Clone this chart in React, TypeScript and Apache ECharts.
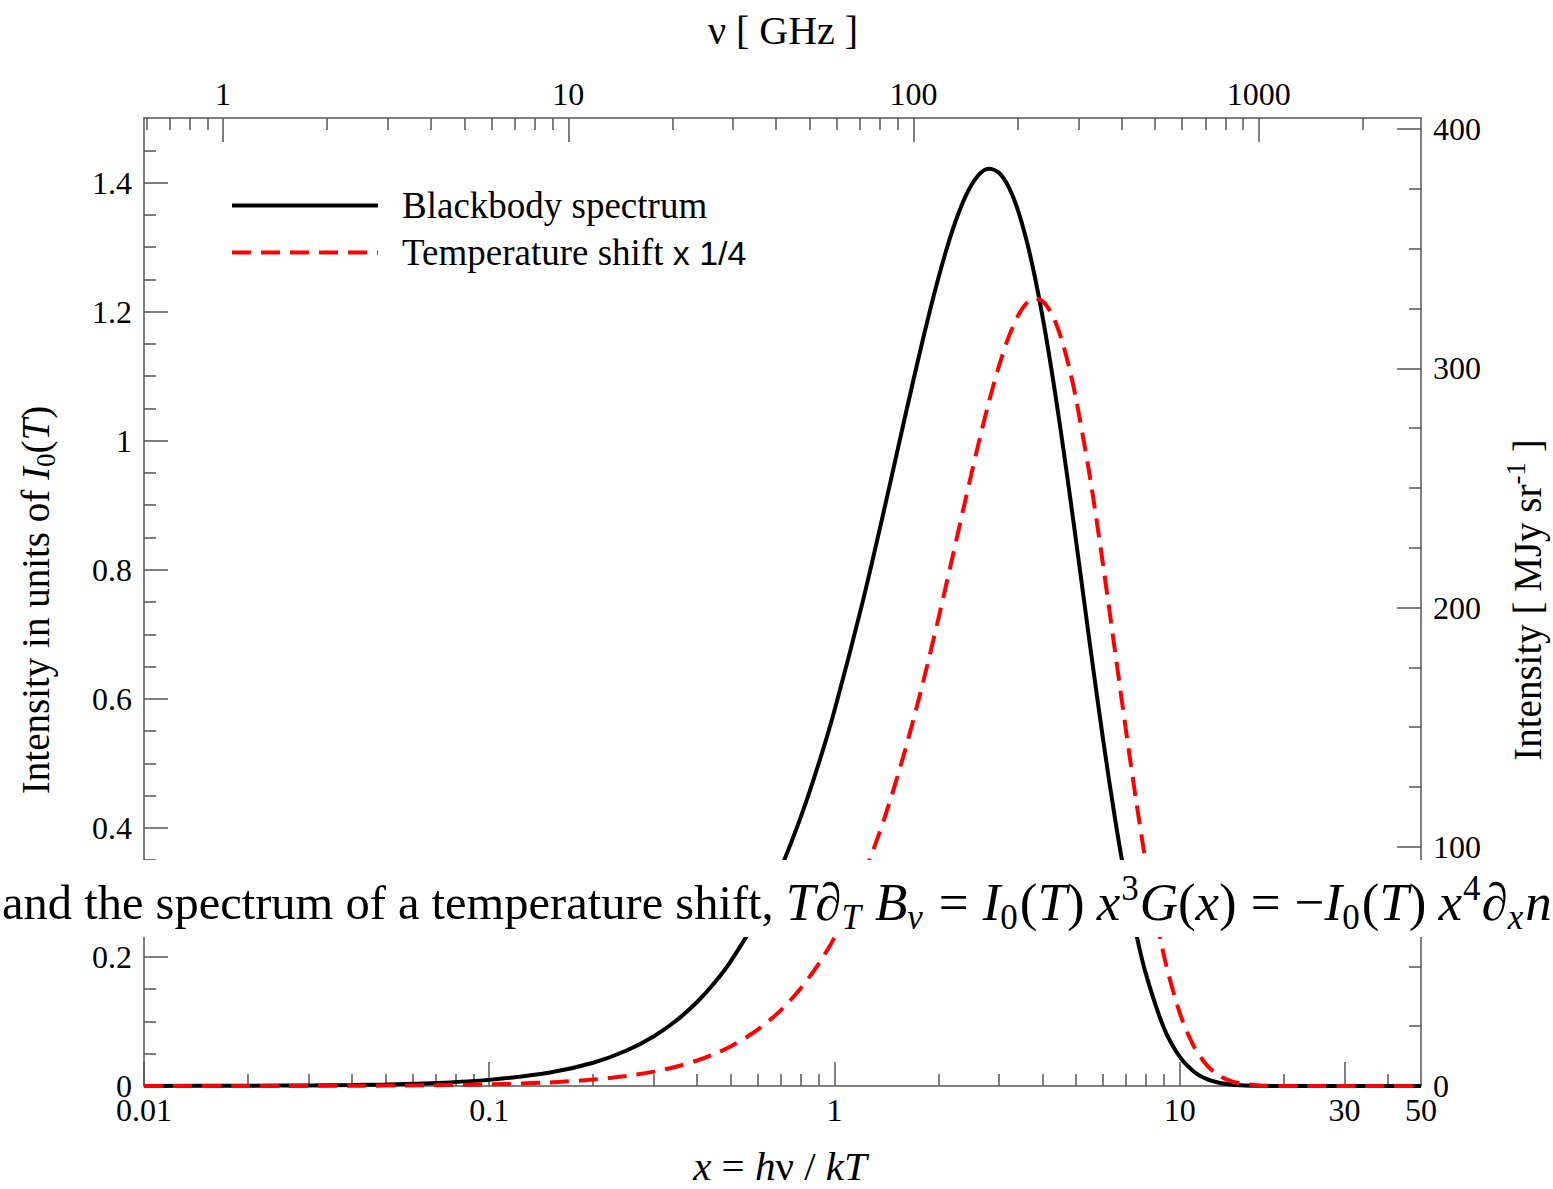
import React, { useEffect, useRef } from "react";
import * as echarts from "echarts";

// x = h nu / kT sample points
const xValues = [0.01, 0.02, 0.03, 0.04, 0.05, 0.07, 0.1, 0.15, 0.2, 0.25, 0.3, 0.35, 0.4, 0.45, 0.5, 0.6, 0.7, 0.8, 0.9, 1.0, 1.2, 1.4, 1.6, 1.8, 2.0, 2.2, 2.4, 2.6, 2.8, 3.0, 3.2, 3.4, 3.6, 3.8, 4.0, 4.2, 4.4, 4.6, 4.8, 5.0, 5.5, 6.0, 6.5, 7.0, 7.5, 8.0, 9, 10, 11, 12, 13, 14, 15, 17, 20, 25, 30, 40, 50];
// Blackbody spectrum (units of I0(T))
const blackbody = [0.0001, 0.0004, 0.0009, 0.0016, 0.0024, 0.0047, 0.0095, 0.0209, 0.0361, 0.055, 0.0772, 0.1023, 0.1301, 0.1603, 0.1927, 0.2627, 0.3383, 0.4178, 0.4995, 0.582, 0.7448, 0.8981, 1.0362, 1.1549, 1.2521, 1.3269, 1.3792, 1.4102, 1.4213, 1.4147, 1.3925, 1.357, 1.3106, 1.2556, 1.1941, 1.1279, 1.0588, 0.9883, 0.9177, 0.848, 0.6827, 0.5367, 0.4135, 0.3131, 0.2335, 0.1718, 0.09, 0.0454, 0.0222, 0.0106, 0.005, 0.0023, 0.001, 0.0002, 0.0, 0, 0, 0, 0];
// Temperature shift x 1/4
const tempShift = [0.00003, 0.0001, 0.0002, 0.0004, 0.0006, 0.0012, 0.0025, 0.0056, 0.01, 0.0155, 0.0223, 0.0303, 0.0395, 0.0498, 0.0612, 0.0873, 0.1176, 0.1517, 0.1894, 0.2302, 0.3197, 0.4172, 0.5193, 0.6226, 0.7241, 0.8207, 0.9101, 0.9902, 1.0594, 1.1166, 1.1613, 1.1933, 1.2127, 1.2201, 1.2163, 1.2023, 1.1792, 1.1481, 1.1104, 1.0671, 0.9426, 0.8071, 0.673, 0.5484, 0.438, 0.3437, 0.2025, 0.1135, 0.0611, 0.0319, 0.0161, 0.008, 0.0039, 0.0009, 0.0001, 0, 0, 0, 0];

const seriesNames = ["Blackbody spectrum", "Temperature shift x 1/4"];

// bottom axis (x)
const xRange = [0.01, 50];
const xMajorTicks = [0.01, 0.1, 1, 10, 30];
const xMinorTicks = [0.02, 0.03, 0.04, 0.05, 0.06, 0.07, 0.08, 0.09, 0.2, 0.3, 0.4, 0.5, 0.6, 0.7, 0.8, 0.9, 2, 3, 4, 5, 6, 7, 8, 9, 20, 40];
const xLabels = [0.01, 0.1, 1, 10, 30, 50];

// top axis (nu in GHz)
const nuRange = [0.59, 2950];
const nuMajorTicks = [1, 10, 100, 1000];
const nuMinorTicks = [0.6, 0.7, 0.8, 0.9, 2, 3, 4, 5, 6, 7, 8, 9, 20, 30, 40, 50, 60, 70, 80, 90, 200, 300, 400, 500, 600, 700, 800, 900, 2000];

// left axis (units of I0)
const yRange = [0, 1.5];
const yMajorTicks = [0, 0.2, 0.4, 0.6, 0.8, 1, 1.2, 1.4];
const yMinorTicks = [0.05, 0.1, 0.15, 0.25, 0.3, 0.35, 0.45, 0.5, 0.55, 0.65, 0.7, 0.75, 0.85, 0.9, 0.95, 1.05, 1.1, 1.15, 1.25, 1.3, 1.35, 1.45];

// right axis (MJy/sr)
const mjyRange = [0, 404.6];
const mjyMajorTicks = [0, 100, 200, 300, 400];
const mjyMinorTicks = [25, 50, 75, 125, 150, 175, 225, 250, 275, 325, 350, 375];

const SERIF = "Liberation Serif";
const AXIS_COLOR = "#555555";
const fmt = (v: number) => String(+(+v).toPrecision(6));

function axisBase(extra: any, showLine: boolean) {
  return {
    axisLine: { show: showLine, onZero: false, lineStyle: { color: AXIS_COLOR, width: 1.5 } },
    splitLine: { show: false },
    ...extra,
  };
}

export default function App() {
  const ref = useRef<HTMLDivElement>(null);

  useEffect(() => {
    if (!ref.current) return;
    const chart = echarts.init(ref.current, null, { renderer: "svg" });

    const labelStyle = { fontFamily: SERIF, fontSize: 32, color: "#000" };
    const tickStyle = { color: AXIS_COLOR, width: 1.5 };

    const xAxis: any[] = [
      axisBase({
        type: "log", logBase: 10, min: xRange[0], max: xRange[1], position: "bottom",
        axisTick: { show: true, inside: true, length: 24, lineStyle: tickStyle, customValues: xMajorTicks },
        axisLabel: { ...labelStyle, margin: 8, customValues: xLabels, formatter: fmt },
      }, true),
      axisBase({
        type: "log", logBase: 10, min: xRange[0], max: xRange[1], position: "bottom",
        axisTick: { show: true, inside: true, length: 12, lineStyle: tickStyle, customValues: xMinorTicks },
        axisLabel: { show: false },
      }, false),
      axisBase({
        type: "log", logBase: 10, min: nuRange[0], max: nuRange[1], position: "top",
        axisTick: { show: true, inside: true, length: 24, lineStyle: tickStyle, customValues: nuMajorTicks },
        axisLabel: { ...labelStyle, margin: 8, customValues: nuMajorTicks, formatter: fmt },
      }, true),
      axisBase({
        type: "log", logBase: 10, min: nuRange[0], max: nuRange[1], position: "top",
        axisTick: { show: true, inside: true, length: 12, lineStyle: tickStyle, customValues: nuMinorTicks },
        axisLabel: { show: false },
      }, false),
    ];

    const yAxis: any[] = [
      axisBase({
        type: "value", min: yRange[0], max: yRange[1], position: "left",
        axisTick: { show: true, inside: true, length: 24, lineStyle: tickStyle, customValues: yMajorTicks },
        axisLabel: { ...labelStyle, margin: 12, customValues: yMajorTicks, formatter: fmt },
      }, true),
      axisBase({
        type: "value", min: yRange[0], max: yRange[1], position: "left",
        axisTick: { show: true, inside: true, length: 12, lineStyle: tickStyle, customValues: yMinorTicks },
        axisLabel: { show: false },
      }, false),
      axisBase({
        type: "value", min: mjyRange[0], max: mjyRange[1], position: "right",
        axisTick: { show: true, inside: true, length: 24, lineStyle: tickStyle, customValues: mjyMajorTicks },
        axisLabel: { ...labelStyle, margin: 12, customValues: mjyMajorTicks, formatter: fmt },
      }, true),
      axisBase({
        type: "value", min: mjyRange[0], max: mjyRange[1], position: "right",
        axisTick: { show: true, inside: true, length: 12, lineStyle: tickStyle, customValues: mjyMinorTicks },
        axisLabel: { show: false },
      }, false),
    ];

    const titleRich = {
      r: { fontFamily: SERIF, fontSize: 39, fill: "#000" },
      i: { fontFamily: SERIF, fontSize: 39, fontStyle: "italic", fill: "#000" },
      sub: { fontFamily: SERIF, fontSize: 27, fill: "#000", padding: [22, 0, 0, 0] },
      sup: { fontFamily: SERIF, fontSize: 27, fill: "#000", padding: [0, 0, 22, 0] },
    };
    const bottomRich = {
      r: { fontFamily: SERIF, fontSize: 41, fill: "#000" },
      i: { fontFamily: SERIF, fontSize: 41, fontStyle: "italic", fill: "#000" },
    };

    const MF = 53;
    const SF = 35;
    const bandRich = {
      r: { fontFamily: SERIF, fontSize: 48.5, fill: "#000" },
      m: { fontFamily: SERIF, fontSize: MF, fill: "#000" },
      i: { fontFamily: SERIF, fontSize: MF, fontStyle: "italic", fill: "#000" },
      eq: { fontFamily: SERIF, fontSize: MF, fill: "#000", padding: [0, 14, 0, 14] },
      gap: { fontFamily: SERIF, fontSize: MF, fill: "#000", padding: [0, 0, 0, 12] },
      si: { fontFamily: SERIF, fontSize: SF, fontStyle: "italic", fill: "#000", padding: [30, 2, 0, 0] },
      sr: { fontFamily: SERIF, fontSize: SF, fill: "#000", padding: [30, 2, 0, 0] },
      sup: { fontFamily: SERIF, fontSize: SF, fill: "#000", padding: [0, 1, 28, 1] },
    };

    const bandText =
      "{r|and the spectrum of a temperature shift, }{i|T}{i|\u2202}{si|T}{gap|}{i|B}{si|\u03bd}{eq|=}{i|I}{sr|0}{m|(}{i|T}{m|)}{gap|}{i|x}{sup|3}{i|G}{m|(}{i|x}{m|)}{eq|=}{m|\u2212}{i|I}{sr|0}{m|(}{i|T}{m|)}{gap|}{i|x}{sup|4}{i|\u2202}{si|x}{i|n}";

    const option: any = {
      animation: false,
      backgroundColor: "#ffffff",
      grid: { left: 144, top: 118, right: 132, bottom: 103, containLabel: false },
      xAxis,
      yAxis,
      legend: {
        show: true,
        orient: "vertical",
        left: 230,
        top: 187,
        padding: 0,
        itemWidth: 146,
        itemHeight: 36,
        itemGap: 10,
        data: seriesNames,
        itemStyle: { opacity: 0, borderWidth: 0 },
        lineStyle: { width: 4 },
        textStyle: {
          fontFamily: SERIF,
          fontSize: 37,
          color: "#000",
          padding: [0, 0, 0, 19],
          rich: {
            a: { fontFamily: SERIF, fontSize: 37, color: "#000" },
            b: { fontFamily: "Liberation Sans", fontSize: 34, color: "#000" },
          },
        },
        formatter: (name: string) =>
          name === seriesNames[1] ? "{a|Temperature shift }{b|x 1/4}" : "{a|" + name + "}",
      },
      series: [
        {
          name: seriesNames[0],
          type: "line",
          xAxisIndex: 0,
          yAxisIndex: 0,
          symbol: "none",
          smooth: 0.3,
          lineStyle: { color: "#000000", width: 4 },
          itemStyle: { color: "#000000" },
          data: xValues.map((x, i) => [x, blackbody[i]]),
        },
        {
          name: seriesNames[1],
          type: "line",
          xAxisIndex: 0,
          yAxisIndex: 0,
          symbol: "none",
          smooth: 0.3,
          lineStyle: { color: "#ff0000", width: 4, type: [19, 10] },
          itemStyle: { color: "#ff0000" },
          data: xValues.map((x, i) => [x, tempShift[i]]),
        },
      ],
      graphic: [
        {
          type: "text", x: 783, y: 30, z: 50,
          style: { text: "\u03bd [ GHz ]", fontFamily: SERIF, fontSize: 40, fill: "#000", align: "center", verticalAlign: "middle" },
        },
        {
          type: "text", x: 780, y: 1166, z: 50,
          style: {
            text: "{i|x}{r| = }{i|h}{r|\u03bd / }{i|kT}",
            rich: bottomRich, align: "center", verticalAlign: "middle",
          },
        },
        {
          type: "text", x: 35, y: 600, rotation: Math.PI / 2, z: 50,
          style: {
            text: "{r|Intensity in units of }{i|I}{sub|0}{r|(}{i|T}{r|)}",
            rich: titleRich, align: "center", verticalAlign: "middle",
          },
        },
        {
          type: "text", x: 1527, y: 600, rotation: Math.PI / 2, z: 50,
          style: {
            text: "{r|Intensity [ MJy sr}{sup|-1}{r| ]}",
            rich: titleRich, align: "center", verticalAlign: "middle",
          },
        },
        {
          type: "rect", z: 100,
          shape: { x: 0, y: 860, width: 1553, height: 77 },
          style: { fill: "#ffffff" },
        },
        {
          type: "text", x: 2, y: 902, z: 101,
          style: { text: bandText, rich: bandRich, align: "left", verticalAlign: "middle" },
        },
      ],
    };

    chart.setOption(option);
    return () => chart.dispose();
  }, []);

  return (
    <div
      ref={ref}
      style={{ position: "absolute", left: 0, top: 0, width: 1553, height: 1189, background: "#fff" }}
    />
  );
}
